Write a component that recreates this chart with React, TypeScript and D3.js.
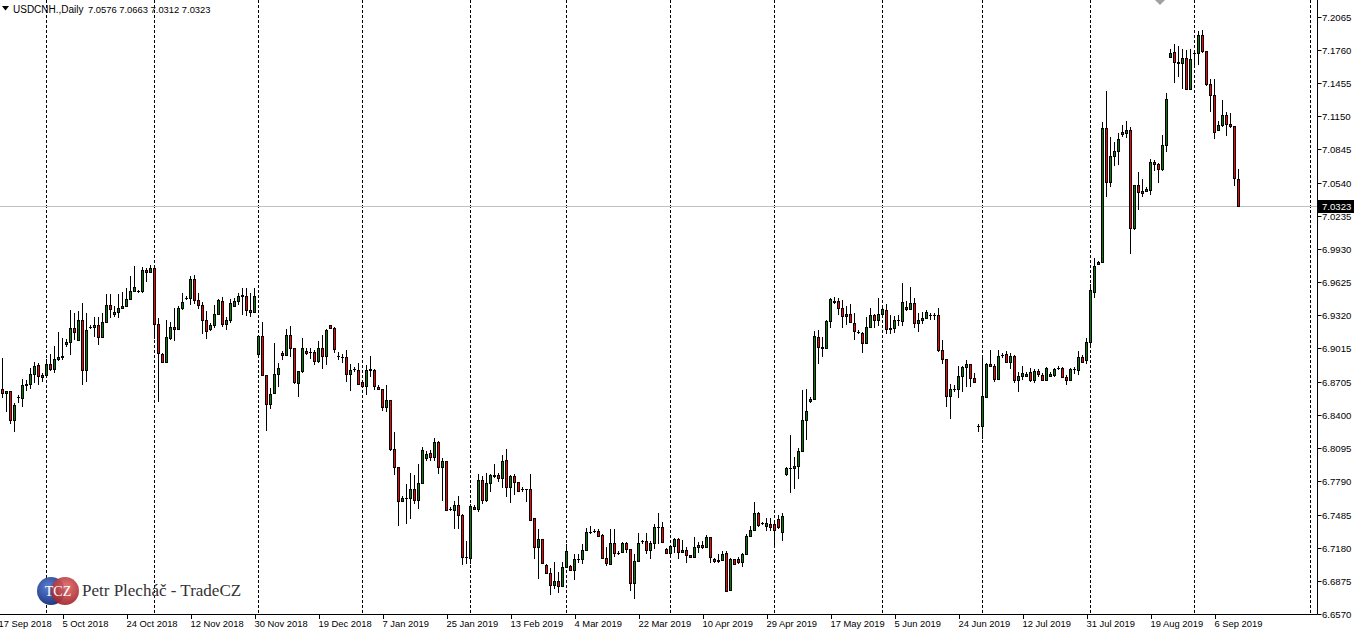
import React from 'react';
import * as d3 from 'd3';

const symbolLabel = 'USDCNH.,Daily';
const headerValues = ['7.0576', '7.0663', '7.0312', '7.0323'];
const bidPrice = 7.0323;

const opens = [
6.8641,6.8604,6.8623,6.8356,6.8568,6.8558,6.8678,6.8687,6.8779,6.8862,
6.8752,6.8770,6.8871,6.8825,6.8917,6.8935,6.9055,6.9074,6.9202,6.9092,
6.9276,6.8816,6.9212,6.9212,6.9230,6.9120,6.9258,6.9414,6.9331,6.9350,
6.9386,6.9405,6.9469,6.9543,6.9543,6.9543,6.9736,6.9718,6.9754,6.9239,
6.8963,6.8890,6.9110,6.9212,6.9193,6.9386,6.9478,6.9478,6.9653,6.9460,
6.9414,6.9276,6.9193,6.9230,6.9331,6.9451,6.9239,6.9276,6.9405,6.9451,
6.9506,6.9497,6.9368,6.9350,6.8963,6.9129,6.8770,6.8503,6.8604,6.8779,
6.8972,6.8954,6.9138,6.9018,6.8696,6.8807,6.8991,6.8982,6.8982,6.8899,
6.9018,6.8945,6.9230,6.9202,6.8945,6.8935,6.8935,6.8779,6.8825,6.8816,
6.8706,6.8669,6.8816,6.8816,6.8660,6.8641,6.8476,6.8540,6.8089,6.7924,
6.7611,6.7638,6.7638,6.7721,6.7620,6.7776,6.8006,6.8052,6.8016,6.8154,
6.7924,6.7979,6.7537,6.7528,6.7574,6.7482,6.7096,6.7086,6.7556,6.7537,
6.7804,6.7620,6.7776,6.7841,6.7850,6.7822,6.7988,6.7740,6.7841,6.7786,
6.7721,6.7721,6.7721,6.7454,6.7188,6.7261,6.7022,6.6948,6.6838,6.6875,
6.6829,6.7004,6.7013,6.6976,6.7077,6.7077,6.7160,6.7326,6.7335,6.7335,
6.7298,6.7086,6.7031,6.7224,6.7132,6.7142,6.7224,6.7169,6.6856,6.7059,
6.7243,6.7243,6.7160,6.7224,6.7372,6.7372,6.7169,6.7132,6.7197,6.7261,
6.7142,6.7160,6.7114,6.7096,6.7188,6.7206,6.7188,6.7280,6.7077,6.7059,
6.7068,6.7132,6.6792,6.7077,6.7077,6.7050,6.7123,6.7289,6.7344,6.7500,
6.7408,6.7381,6.7399,6.7399,6.7445,6.7326,6.7859,6.7914,6.7914,6.7933,
6.8071,6.8356,6.8531,6.8549,6.9120,6.9028,6.9018,6.9267,6.9442,6.9451,
6.9386,6.9313,6.9331,6.9248,6.9166,6.9156,6.9064,6.9212,6.9322,6.9276,
6.9331,6.9368,6.9193,6.9202,6.9276,6.9267,6.9396,6.9377,6.9432,6.9248,
6.9276,6.9294,6.9322,6.9322,6.9322,6.9000,6.8917,6.8577,6.8641,6.8641,
6.8761,6.8844,6.8871,6.8742,6.8301,6.8301,6.8568,6.8871,6.8853,6.8733,
6.8954,6.8963,6.8890,6.8945,6.8724,6.8761,6.8761,6.8798,6.8724,6.8807,
6.8770,6.8724,6.8761,6.8770,6.8834,6.8834,6.8752,6.8724,6.8825,6.8816,
6.8935,6.8908,6.9074,6.9534,6.9791,6.9810,7.1042,7.0546,7.0785,7.0831,
7.0987,7.0996,7.1024,7.0122,7.0518,7.0463,7.0463,7.0472,7.0730,7.0711,
7.0665,7.0886,7.1696,7.1742,7.1650,7.1640,7.1686,7.1401,7.1732,7.1732,
7.1898,7.1751,7.1447,7.1346,7.1024,7.1070,7.1162,7.1079,7.1061,7.0576
];

const highs = [
6.8926,6.8623,6.8623,6.8512,6.8586,6.8733,6.8724,6.8834,6.8890,6.8880,
6.8788,6.8917,6.8963,6.9037,6.9166,6.9110,6.9101,6.9368,6.9340,6.9359,
6.9432,6.9340,6.9230,6.9304,6.9304,6.9340,6.9515,6.9515,6.9405,6.9515,
6.9534,6.9570,6.9681,6.9773,6.9552,6.9764,6.9754,6.9782,6.9773,6.9294,
6.8972,6.9276,6.9258,6.9386,6.9405,6.9524,6.9497,6.9681,6.9690,6.9524,
6.9442,6.9359,6.9248,6.9414,6.9469,6.9488,6.9304,6.9469,6.9478,6.9524,
6.9570,6.9570,6.9524,6.9570,6.9138,6.9258,6.8770,6.8650,6.9064,6.8880,
6.8991,6.9193,6.9221,6.9018,6.8807,6.9110,6.9018,6.9018,6.9000,6.9083,
6.9138,6.9193,6.9230,6.9212,6.8982,6.8963,6.9000,6.8871,6.8843,6.8880,
6.8724,6.8862,6.8945,6.8825,6.8678,6.8641,6.8678,6.8540,6.8246,6.7924,
6.7657,6.7767,6.7868,6.7850,6.7951,6.8108,6.8071,6.8080,6.8190,6.8163,
6.8006,6.7979,6.7556,6.7611,6.7657,6.7491,6.7243,6.7583,6.7574,6.7859,
6.7841,6.7868,6.7859,6.7951,6.7868,6.8034,6.8089,6.7850,6.7859,6.7786,
6.7740,6.7721,6.7859,6.7454,6.7353,6.7261,6.7031,6.6994,6.7050,6.6958,
6.7050,6.7215,6.7022,6.7123,6.7123,6.7215,6.7362,6.7381,6.7353,6.7353,
6.7307,6.7188,6.7353,6.7353,6.7151,6.7234,6.7234,6.7169,6.7123,6.7316,
6.7252,6.7316,6.7243,6.7399,6.7500,6.7418,6.7178,6.7206,6.7270,6.7270,
6.7252,6.7188,6.7114,6.7280,6.7234,6.7243,6.7298,6.7280,6.7086,6.7123,
6.7151,6.7151,6.7086,6.7077,6.7096,6.7132,6.7307,6.7381,6.7602,6.7510,
6.7418,6.7454,6.7454,6.7418,6.7482,6.7500,6.7924,6.8218,6.8016,6.8098,
6.8632,6.8641,6.8568,6.9175,6.9184,6.9120,6.9276,6.9478,6.9488,6.9478,
6.9460,6.9405,6.9423,6.9340,6.9184,6.9166,6.9304,6.9386,6.9331,6.9478,
6.9414,6.9423,6.9322,6.9313,6.9322,6.9616,6.9451,6.9580,6.9478,6.9340,
6.9350,6.9368,6.9340,6.9340,6.9386,6.9092,6.8917,6.8687,6.8678,6.8853,
6.8853,6.8908,6.8871,6.8788,6.8319,6.8935,6.8880,6.9000,6.8871,6.9000,
6.8972,6.8991,6.8972,6.8954,6.8798,6.8853,6.8798,6.8834,6.8825,6.8825,
6.8788,6.8844,6.8798,6.8834,6.8853,6.8844,6.8770,6.8834,6.8844,6.8991,
6.8954,6.9110,6.9607,6.9846,6.9819,7.1098,7.1383,7.0960,7.0914,7.0996,
7.1070,7.1107,7.1052,7.0518,7.0638,7.0573,7.0500,7.0757,7.0748,7.0720,
7.0978,7.1364,7.1769,7.1815,7.1797,7.1769,7.1760,7.1769,7.1742,7.1935,
7.1944,7.1751,7.1493,7.1493,7.1107,7.1300,7.1190,7.1180,7.1061,7.0663
];

const lows = [
6.8558,6.8430,6.8319,6.8246,6.8512,6.8476,6.8623,6.8641,6.8696,6.8678,
6.8706,6.8752,6.8807,6.8788,6.8899,6.8908,6.9028,6.8954,6.9092,6.9092,
6.8678,6.8706,6.9193,6.9120,6.9046,6.9110,6.9248,6.9294,6.9304,6.9294,
6.9377,6.9396,6.9460,6.9534,6.9524,6.9524,6.9626,6.9708,6.9101,6.8522,
6.8880,6.8890,6.9092,6.9083,6.9193,6.9368,6.9460,6.9414,6.9423,6.9377,
6.9147,6.9101,6.9175,6.9202,6.9322,6.9212,6.9184,6.9248,6.9396,6.9414,
6.9322,6.9313,6.9304,6.9340,6.8935,6.8761,6.8255,6.8457,6.8595,6.8660,
6.8908,6.8945,6.8935,6.8687,6.8568,6.8788,6.8954,6.8917,6.8862,6.8880,
6.8825,6.8862,6.9193,6.8972,6.8908,6.8880,6.8706,6.8623,6.8798,6.8678,
6.8660,6.8586,6.8752,6.8632,6.8641,6.8439,6.8430,6.8071,6.7850,6.7381,
6.7611,6.7399,6.7445,6.7583,6.7537,6.7776,6.7979,6.7979,6.7979,6.7859,
6.7611,6.7519,6.7519,6.7353,6.7353,6.7022,6.7031,6.7031,6.7537,6.7510,
6.7583,6.7602,6.7694,6.7822,6.7786,6.7730,6.7648,6.7592,6.7666,6.7694,
6.7694,6.7602,6.7427,6.7077,6.6893,6.7040,6.6939,6.6746,6.6801,6.6764,
6.6829,6.7004,6.6976,6.6884,6.7040,6.7031,6.7160,6.7307,6.7316,6.7280,
6.7077,6.7013,6.7031,6.7096,6.7114,6.7132,6.7132,6.6783,6.6709,6.7059,
6.7215,6.7123,6.7077,6.7169,6.7215,6.7234,6.7132,6.7114,6.7132,6.7077,
6.7132,6.7040,6.7086,6.7086,6.7132,6.7169,6.7178,6.7040,6.7040,6.7040,
6.7059,6.6783,6.6783,6.7022,6.7031,6.7004,6.7114,6.7280,6.7335,6.7372,
6.7390,6.7335,6.7335,6.7178,6.7353,6.7243,6.7841,6.7684,6.7721,6.7813,
6.8062,6.8172,6.8512,6.8549,6.8871,6.8935,6.9018,6.9202,6.9423,6.9322,
6.9202,6.9230,6.9248,6.9092,6.9147,6.8972,6.9055,6.9202,6.9202,6.9221,
6.9322,6.9147,6.9147,6.9156,6.9221,6.9221,6.9359,6.9377,6.9202,6.9166,
6.9239,6.9294,6.9276,6.9276,6.8982,6.8871,6.8476,6.8365,6.8614,6.8558,
6.8614,6.8660,6.8660,6.8706,6.8246,6.8181,6.8568,6.8844,6.8706,6.8733,
6.8926,6.8880,6.8825,6.8696,6.8614,6.8724,6.8752,6.8706,6.8696,6.8752,
6.8715,6.8715,6.8752,6.8752,6.8816,6.8742,6.8678,6.8724,6.8779,6.8770,
6.8880,6.8871,6.9037,6.9478,6.9791,6.9810,7.0408,7.0500,7.0693,7.0702,
7.0960,7.0950,6.9883,7.0104,7.0288,7.0408,7.0454,7.0426,7.0647,7.0536,
7.0647,7.0822,7.1686,7.1456,7.1512,7.1401,7.1392,7.1392,7.1622,7.1622,
7.1732,7.1429,7.1190,7.0941,7.1015,7.1052,7.0969,7.1042,7.0509,7.0312
];

const closes = [
6.8604,6.8623,6.8356,6.8494,6.8568,6.8678,6.8687,6.8779,6.8853,6.8761,
6.8770,6.8871,6.8825,6.8917,6.8935,6.8945,6.9074,6.9202,6.9166,6.9276,
6.8816,6.9184,6.9212,6.9230,6.9120,6.9258,6.9414,6.9377,6.9350,6.9386,
6.9405,6.9469,6.9543,6.9580,6.9543,6.9736,6.9718,6.9754,6.9239,6.8972,
6.8890,6.9120,6.9212,6.9193,6.9386,6.9442,6.9478,6.9653,6.9460,6.9414,
6.9276,6.9175,6.9230,6.9331,6.9460,6.9239,6.9276,6.9432,6.9451,6.9497,
6.9497,6.9368,6.9350,6.9497,6.9129,6.8770,6.8503,6.8595,6.8779,6.8834,
6.8954,6.9138,6.9018,6.8706,6.8807,6.9018,6.8972,6.8982,6.8899,6.9018,
6.8945,6.9184,6.9202,6.9009,6.8945,6.8935,6.8779,6.8816,6.8825,6.8687,
6.8669,6.8816,6.8825,6.8669,6.8641,6.8476,6.8540,6.8089,6.7924,6.7611,
6.7638,6.7638,6.7721,6.7620,6.7776,6.8080,6.8043,6.8016,6.8154,6.7924,
6.7979,6.7528,6.7537,6.7574,6.7482,6.7096,6.7096,6.7565,6.7537,6.7804,
6.7620,6.7776,6.7850,6.7850,6.7822,6.7979,6.7740,6.7841,6.7786,6.7703,
6.7721,6.7721,6.7436,6.7188,6.7261,6.7040,6.6948,6.6838,6.6875,6.6829,
6.7004,6.7151,6.6976,6.7077,6.7077,6.7160,6.7326,6.7326,6.7335,6.7289,
6.7086,6.7040,6.7224,6.7132,6.7132,6.7224,6.7169,6.6856,6.7059,6.7224,
6.7243,6.7160,6.7224,6.7372,6.7372,6.7234,6.7132,6.7197,6.7261,6.7142,
6.7160,6.7114,6.7096,6.7188,6.7206,6.7188,6.7280,6.7096,6.7059,6.7068,
6.7123,6.6783,6.7077,6.7031,6.7050,6.7123,6.7289,6.7344,6.7500,6.7390,
6.7408,6.7408,6.7372,6.7344,6.7372,6.7473,6.7914,6.7914,6.7933,6.8071,
6.8356,6.8439,6.8549,6.9129,6.9028,6.9018,6.9267,6.9469,6.9451,6.9386,
6.9313,6.9331,6.9258,6.9175,6.9166,6.9064,6.9212,6.9322,6.9276,6.9331,
6.9377,6.9193,6.9202,6.9276,6.9276,6.9442,6.9377,6.9432,6.9248,6.9276,
6.9294,6.9350,6.9322,6.9322,6.9000,6.8917,6.8577,6.8641,6.8641,6.8761,
6.8844,6.8871,6.8742,6.8706,6.8301,6.8577,6.8871,6.8853,6.8733,6.8945,
6.8954,6.8890,6.8945,6.8724,6.8761,6.8788,6.8779,6.8724,6.8807,6.8779,
6.8724,6.8834,6.8779,6.8825,6.8834,6.8752,6.8724,6.8825,6.8825,6.8935,
6.8890,6.9074,6.9552,6.9773,6.9810,7.1042,7.0546,7.0785,7.0831,7.0941,
7.1006,7.1024,7.0122,7.0518,7.0454,7.0444,7.0481,7.0730,7.0711,7.0665,
7.0886,7.1309,7.1732,7.1650,7.1640,7.1686,7.1401,7.1677,7.1732,7.1898,
7.1751,7.1447,7.1346,7.1006,7.1070,7.1162,7.1079,7.1061,7.0582,7.0323
];

const priceTicks = [
7.2065, 7.1760, 7.1455, 7.1150, 7.0845, 7.0540, 7.0235, 6.9930, 6.9625, 6.9320,
6.9015, 6.8705, 6.8400, 6.8095, 6.7790, 6.7485, 6.7180, 6.6875, 6.6570
];

const dateLabels = [
'17 Sep 2018', '5 Oct 2018', '24 Oct 2018', '12 Nov 2018', '30 Nov 2018', '19 Dec 2018',
'7 Jan 2019', '25 Jan 2019', '13 Feb 2019', '4 Mar 2019', '22 Mar 2019', '10 Apr 2019',
'29 Apr 2019', '17 May 2019', '5 Jun 2019', '24 Jun 2019', '12 Jul 2019', '31 Jul 2019',
'19 Aug 2019', '6 Sep 2019'
];
const dateLabelBars = [-1, 15, 31, 47, 63, 79, 95, 111, 127, 143, 159, 175, 191, 207, 223, 239, 255, 271, 287, 303];

const monthSeparatorBars = [11, 38, 64, 90, 117, 141, 167, 193, 220, 245, 272, 298, 327];

const W = 1355;
const H = 633;
const PLOT_RIGHT = 1317.5;
const PLOT_BOTTOM = 614;
const FONT = 'Tahoma, "Liberation Sans", Arial, sans-serif';
const BULL = '#008000';
const BEAR = '#ff0000';

export default function App() {
  const y = d3.scaleLinear().domain([6.6570, 7.2220]).range([PLOT_BOTTOM, 0]);
  const x = d3.scaleLinear().domain([0, 1]).range([2.5, 6.5]);

  const candles = d3.range(opens.length).map((i) => ({
    i, o: opens[i], h: highs[i], l: lows[i], c: closes[i],
  }));

  const bidY = Math.round(y(bidPrice)) + 0.5;

  return (
    <div style={{ position: 'fixed', left: 0, top: 0, width: W, height: H, background: '#fff' }}>
      <svg width={W} height={H} style={{ display: 'block' }}>
        <defs>
          <radialGradient id="blueG" cx="40%" cy="35%" r="70%">
            <stop offset="0%" stopColor="#5a7fd0" />
            <stop offset="100%" stopColor="#1c3580" />
          </radialGradient>
          <radialGradient id="redG" cx="55%" cy="35%" r="70%">
            <stop offset="0%" stopColor="#e06a6a" />
            <stop offset="100%" stopColor="#9c1f24" />
          </radialGradient>
        </defs>
        <rect x={0} y={0} width={W} height={H} fill="#ffffff" />

        {monthSeparatorBars.map((b) => (
          <line key={'sep' + b} x1={x(b)} x2={x(b)} y1={0} y2={PLOT_BOTTOM}
            stroke="#000" strokeWidth={1} strokeDasharray="3,2" />
        ))}

        <line x1={0} x2={PLOT_RIGHT} y1={bidY} y2={bidY} stroke="#c0c0c0" strokeWidth={1} />

        {candles.map((d) => {
          const cx = x(d.i);
          const yH = Math.round(y(d.h));
          const yL = Math.round(y(d.l));
          const yO = y(d.o);
          const yC = y(d.c);
          const t = Math.round(Math.min(yO, yC));
          const b = Math.round(Math.max(yO, yC));
          const fill = d.c > d.o ? BULL : BEAR;
          return (
            <g key={'c' + d.i}>
              <line x1={cx} x2={cx} y1={yH} y2={Math.max(yL, yH + 1)} stroke="#000" strokeWidth={1} />
              {b - t < 1 ? (
                <line x1={cx - 1.5} x2={cx + 1.5} y1={t + 0.5} y2={t + 0.5} stroke="#000" strokeWidth={1} />
              ) : (
                <rect x={cx - 1} y={t + 0.5} width={2} height={b - t} fill={fill} stroke="#000" strokeWidth={1} />
              )}
            </g>
          );
        })}

        <path d="M1155,0 L1165,0 L1160,5 Z" fill="#a0a0a0" />

        <path d="M2,6 L9,6 L5.5,10.5 Z" fill="#000" />
        <text x={13} y={12.5} fontFamily={FONT} fontSize={10} fill="#000">{symbolLabel}</text>
        <text x={88} y={12.5} fontFamily={FONT} fontSize={9.4} fill="#000">{headerValues.join(' ')}</text>

        <g>
          <circle cx={51} cy={591} r={14} fill="url(#blueG)" />
          <circle cx={65} cy={591} r={14} fill="url(#redG)" opacity={0.92} />
          <text x={58} y={596} textAnchor="middle" fontFamily='"Liberation Serif", "DejaVu Serif", serif'
            fontSize={14} fill="#fff">TCZ</text>
          <text x={82} y={596} fontFamily='"Liberation Serif", "DejaVu Serif", serif' fontSize={17} fill="#333">
            Petr Plecháč - TradeCZ
          </text>
        </g>

        <line x1={PLOT_RIGHT} x2={PLOT_RIGHT} y1={0} y2={PLOT_BOTTOM + 0.5} stroke="#000" strokeWidth={1} />
        <line x1={0} x2={PLOT_RIGHT} y1={PLOT_BOTTOM + 0.5} y2={PLOT_BOTTOM + 0.5} stroke="#000" strokeWidth={1} />

        {priceTicks.map((p) => {
          const py = Math.round(y(p)) + 0.5;
          return (
            <g key={'pt' + p}>
              <line x1={PLOT_RIGHT} x2={PLOT_RIGHT + 4} y1={py} y2={py} stroke="#000" strokeWidth={1} />
              <text x={1322} y={py} dy="0.35em" fontFamily={FONT} fontSize={9.6} fill="#000">{p.toFixed(4)}</text>
            </g>
          );
        })}

        <rect x={PLOT_RIGHT + 0.5} y={bidY - 6.5} width={36} height={13} fill="#000" />
        <text x={1322} y={bidY} dy="0.35em" fontFamily={FONT} fontSize={9.6} fill="#fff">{bidPrice.toFixed(4)}</text>

        {dateLabels.map((lab, k) => {
          const tx = Math.round(x(dateLabelBars[k])) + 0.5;
          return (
            <g key={'dl' + k}>
              <line x1={tx} x2={tx} y1={PLOT_BOTTOM} y2={PLOT_BOTTOM + 5} stroke="#000" strokeWidth={1} />
              <text x={tx - 1} y={627} fontFamily={FONT} fontSize={9.4} fill="#000">{lab}</text>
            </g>
          );
        })}
      </svg>
    </div>
  );
}
